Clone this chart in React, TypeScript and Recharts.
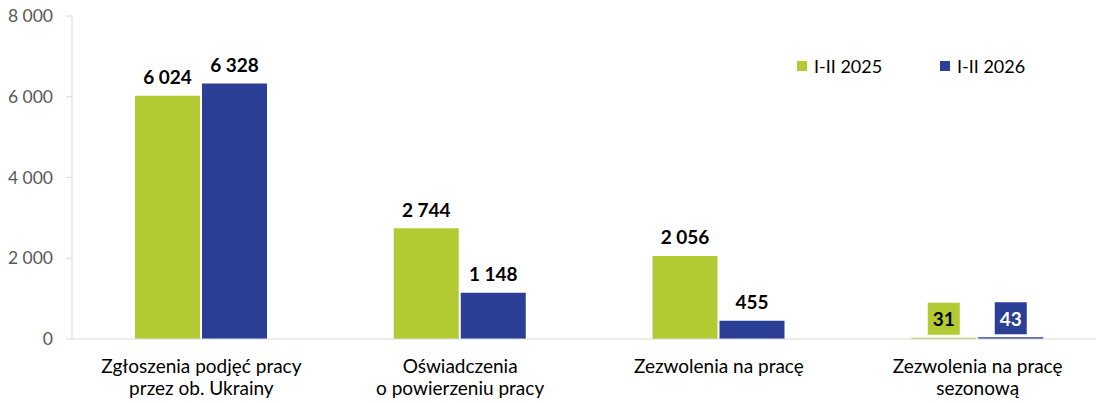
import { Bar, BarChart, LabelList, XAxis, YAxis } from "recharts";

const categories = [
  "Zgłoszenia podjęć pracy\nprzez ob. Ukrainy",
  "Oświadczenia\no powierzeniu pracy",
  "Zezwolenia na pracę",
  "Zezwolenia na pracę\nsezonową",
];
const values2025 = [6024, 2744, 2056, 31];
const values2026 = [6328, 1148, 455, 43];
const yTicks = [0, 2000, 4000, 6000, 8000];

const GREEN = "#b3cb33";
const BLUE = "#2c3f97";
const FONT = "Lato, 'Noto Sans', sans-serif";

const data = categories.map((name, i) => ({
  name,
  y2025: values2025[i],
  y2026: values2026[i],
}));

const fmt = (v: number) => String(v).replace(/\B(?=(\d{3})+(?!\d))/g, " ");

function CategoryTick({ x, y, payload }: any) {
  const lines = String(payload.value).split("\n");
  return (
    <text x={x} y={y} textAnchor="middle" fill="#000" fontSize={19} fontFamily={FONT}>
      {lines.map((l, i) => (
        <tspan key={i} x={x} dy={i === 0 ? 26 : 21.5}>
          {l}
        </tspan>
      ))}
    </text>
  );
}

function makeLabel(fill: string, smallText: string) {
  return function ValueLabel(props: any) {
    const { x, y, width, value } = props;
    const cx = x + width / 2;
    const cy = y - 19;
    const small = value < 100;
    return (
      <g>
        {small && <rect x={cx - 16} y={cy - 16} width={32} height={32} fill={fill} />}
        <text
          x={cx}
          y={cy}
          textAnchor="middle"
          dominantBaseline="central"
          fontSize={19}
          fontWeight={700}
          fontFamily={FONT}
          fill={small ? smallText : "#000"}
        >
          {fmt(value)}
        </text>
      </g>
    );
  };
}

function LegendBox() {
  const item = (color: string, text: string) => (
    <div style={{ display: "flex", alignItems: "center", width: 143 }}>
      <span style={{ width: 10, height: 10, background: color, marginRight: 7 }} />
      <span style={{ fontSize: 18, color: "#000", fontFamily: FONT, lineHeight: "20px" }}>{text}</span>
    </div>
  );
  return (
    <div style={{ position: "absolute", left: 797, top: 56, display: "flex" }}>
      {item(GREEN, "I-II 2025")}
      {item(BLUE, "I-II 2026")}
    </div>
  );
}

export default function App() {
  return (
    <div style={{ position: "absolute", left: 0, top: 0, width: 1096, height: 403, overflow: "hidden", background: "#fff" }}>
      <BarChart
        width={1107}
        height={403}
        data={data}
        margin={{ top: 16, right: 0, bottom: 0, left: 0 }}
        barCategoryGap={63}
        barGap={2}
      >
        <YAxis
          domain={[0, 8000]}
          ticks={yTicks}
          width={72}
          tickFormatter={fmt}
          tick={{ fill: "#595959", fontSize: 17.5, fontFamily: FONT }}
          tickSize={6}
          tickMargin={13}
          axisLine={{ stroke: "#d9d9d9" }}
          tickLine={{ stroke: "#d9d9d9" }}
        />
        <XAxis
          dataKey="name"
          height={64}
          interval={0}
          tick={<CategoryTick />}
          axisLine={{ stroke: "#d9d9d9" }}
          tickLine={false}
        />
        <Bar dataKey="y2025" name="I-II 2025" fill={GREEN} isAnimationActive={false}>
          <LabelList dataKey="y2025" content={makeLabel(GREEN, "#000")} />
        </Bar>
        <Bar dataKey="y2026" name="I-II 2026" fill={BLUE} isAnimationActive={false}>
          <LabelList dataKey="y2026" content={makeLabel(BLUE, "#fff")} />
        </Bar>
      </BarChart>
      <LegendBox />
    </div>
  );
}
